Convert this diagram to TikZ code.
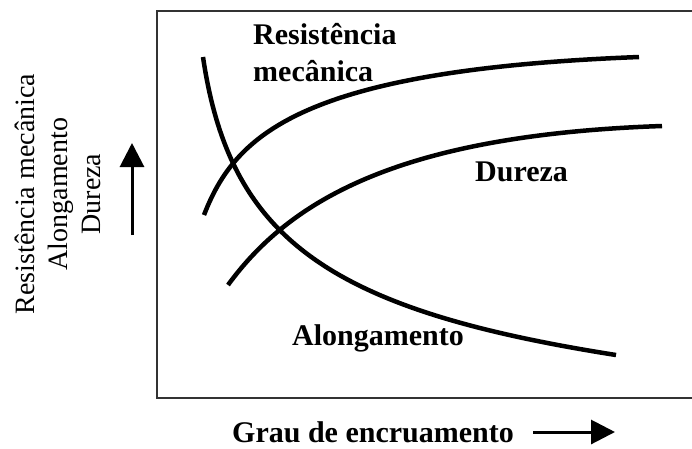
\documentclass[tikz,border=0pt]{standalone}
\usepackage{fontspec}
\setmainfont{Liberation Serif}
\usetikzlibrary{arrows.meta}

\tikzset{
    curve/.style={line width=4.5pt},
    lbl/.style={font=\fontsize{30}{37}\selectfont\bfseries, inner sep=0pt},
    bigarrow/.style={line width=3pt, -{Triangle[length=24pt,width=24pt]}},
}

\begin{document}
\begin{tikzpicture}[x=1pt, y=-1pt]
    \useasboundingbox (0,0) rectangle (692,448);

    % frame, open on the right
    \draw [line width=2pt, black!80] (700,11) -- (157,11) -- (157,398) -- (700,398);

    % curves
    \draw [curve] (204,215) .. controls (235,135) and (300,70) .. (639,57);
    \draw [curve] (228,285) .. controls (290,200) and (400,135) .. (662,126);
    \draw [curve] (203,57) .. controls (230,240) and (330,310) .. (616,355);

    % curve labels
    \node [lbl, anchor=west, align=left] (resist) at (253,53)
        {Resistência\\mecânica};
    \node [lbl, anchor=west] (dureza) at (475,172) {Dureza};
    \node [lbl, anchor=west] (along) at (292,338) {Alongamento};

    % y axis
    \node [rotate=90, align=center,
        font=\fontsize{28}{33}\selectfont,
    ] (ylabel) at (58,194) {Resistência mecânica\\Alongamento\\Dureza};
    \coordinate (ys) at (132,235);
    \coordinate (ye) at (132,143);
    \draw [bigarrow] (ys) -- (ye);

    % x axis
    \node [lbl, anchor=west] (grau) at (232,432) {Grau de encruamento};
    \coordinate (xs) at (533,432);
    \coordinate (xe) at (615,432);
    \draw [bigarrow] (xs) -- (xe);
\end{tikzpicture}
\end{document}
